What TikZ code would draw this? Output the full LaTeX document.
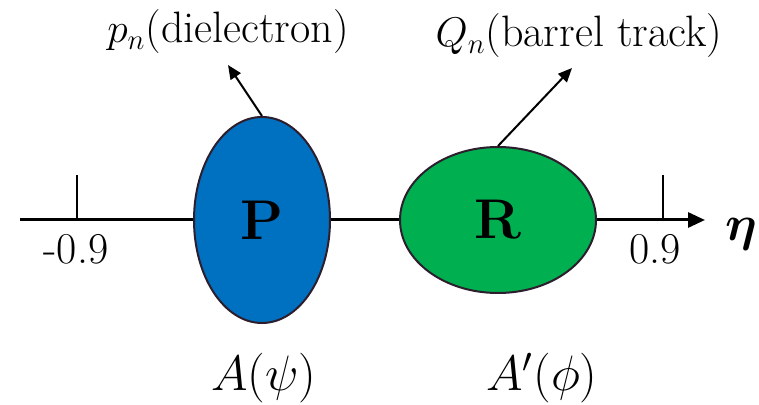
\documentclass[tikz,border=0pt]{standalone}
\usepackage{bm}
\usetikzlibrary{arrows.meta,shapes.geometric}

\definecolor{blobblue}{RGB}{0,112,192}
\definecolor{blobgreen}{RGB}{0,176,80}
\definecolor{rimdark}{RGB}{45,30,45}

\begin{document}
\begin{tikzpicture}[
  x=0.5pt, y=-0.5pt,
  every node/.style={font=\fontsize{22}{26}\selectfont, inner sep=0pt},
  axis/.style={line width=1.5pt, -{Triangle[length=8.5pt,width=7.5pt]}},
  tick/.style={line width=1pt},
  blob/.style={ellipse, draw=rimdark, line width=1pt, font=\fontsize{28}{30}\selectfont\bfseries},
  pointer/.style={line width=1pt, -{Triangle[length=7pt,width=6pt]}},
  amplabel/.style={font=\fontsize{25}{28}\selectfont}
]
\useasboundingbox (0,0) rectangle (759,405);

% ---------- Axis ----------
\coordinate (axL) at (20,220);
\coordinate (axR) at (705,220);
\draw[axis] (axL) -- (axR);
\node[font=\fontsize{40}{42}\selectfont] (eta) at (741,234) {$\bm{\eta}$};

% ---------- Ticks ----------
\coordinate (tickL) at (77,175);
\coordinate (tickR) at (663,175);
\draw[tick] (tickL) -- (tickL |- axL);
\draw[tick] (tickR) -- (tickR |- axR);
\node (lowLab) at (76,249) {-0.9};
\node (highLab) at (655,249) {0.9};

% ---------- Regions ----------
\node[blob, fill=blobblue, minimum width=68pt, minimum height=103pt] (P) at (262,220) {P};
\node[blob, fill=blobgreen, minimum width=98pt, minimum height=73pt] (R) at (498,220) {R};

% ---------- Pointers ----------
\node (pLab) at (228,32) {$p_n$(dielectron)};
\node (qLab) at (579,36) {$Q_n$(barrel track)};
\coordinate (pTip) at (228,65);
\coordinate (qTip) at (572,68);
\draw[pointer] (P.north) -- (pTip);
\draw[pointer] (R.north) -- (qTip);

% ---------- Bottom labels ----------
\node[amplabel] (amp) at (264,378) {$A(\psi)$};
\node[amplabel] (ampB) at (542,378) {$A'(\phi)$};

\end{tikzpicture}
\end{document}
